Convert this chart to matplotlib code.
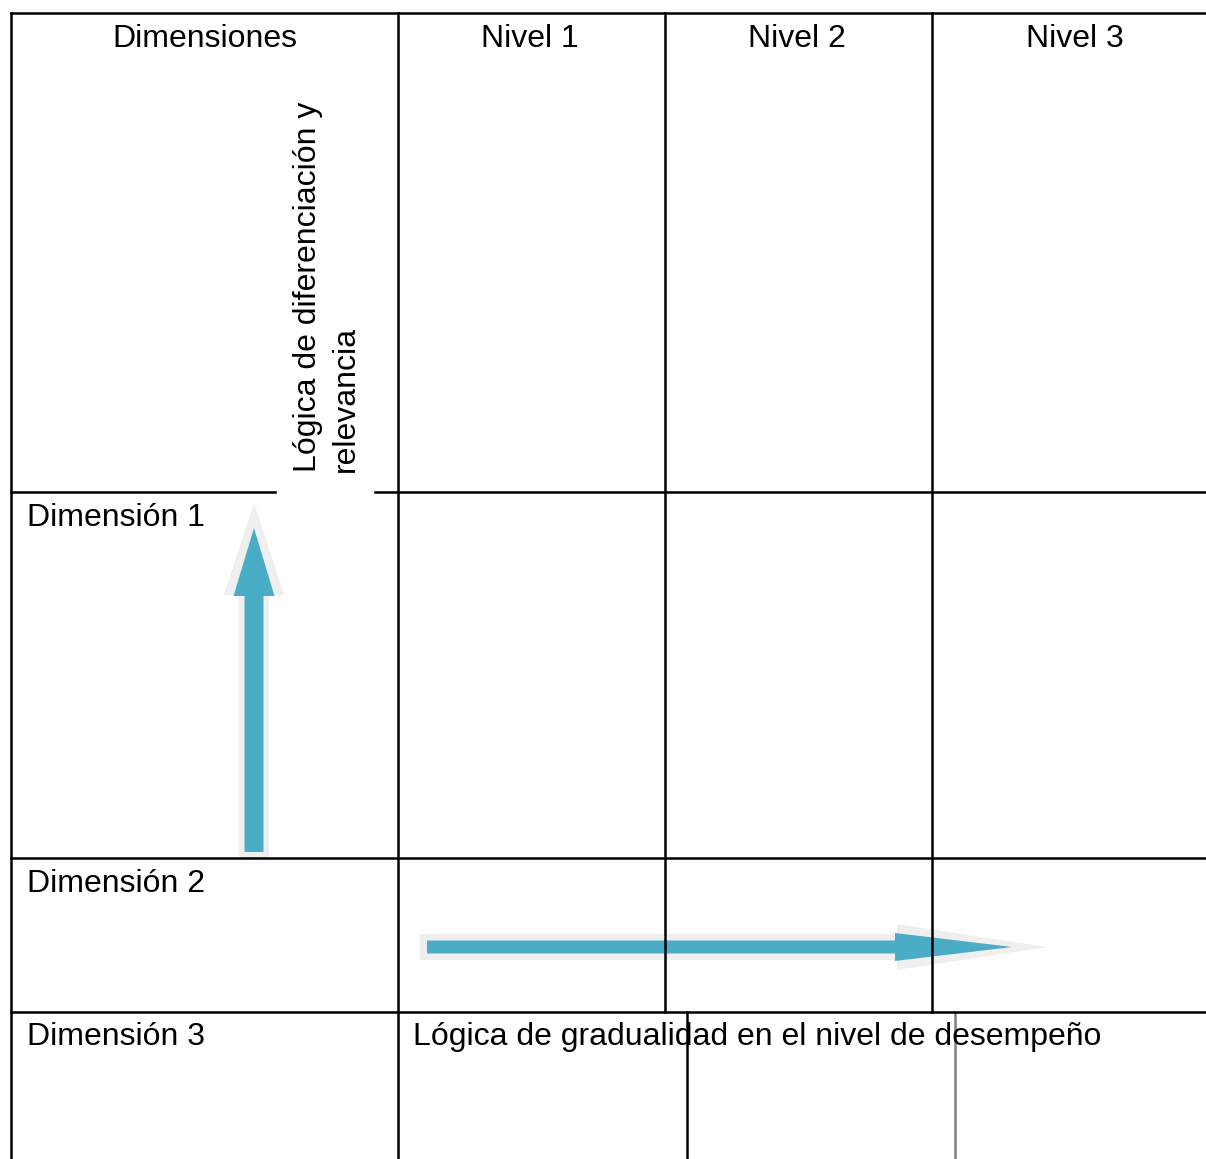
import matplotlib.pyplot as plt
from matplotlib.patches import Polygon

plt.rcParams['font.family'] = ['Liberation Sans', 'DejaVu Sans']

# table content
header = ['Dimensiones', 'Nivel 1', 'Nivel 2', 'Nivel 3']
header_x = [205, 530, 797, 1075]
dimensions = ['Dimensión 1', 'Dimensión 2', 'Dimensión 3']
dimension_y = [526, 892, 1045]
vertical_label = 'Lógica de diferenciación y\nrelevancia'
horizontal_label = 'Lógica de gradualidad en el nivel de desempeño'

# grid lines in pixel space: (x0, x1, y0, y1, colour)
grid_lines = [
    (11, 1206, 13, 13, 'black'),
    (11, 11, 13, 1159, 'black'),
    (398, 398, 13, 1159, 'black'),
    (665, 665, 13, 1012, 'black'),
    (932, 932, 13, 1012, 'black'),
    (687, 687, 1012, 1159, 'black'),
    (955, 955, 1012, 1159, '#808080'),
    (11, 275, 492, 492, 'black'),
    (375, 1206, 492, 492, 'black'),
    (11, 1206, 858, 858, 'black'),
    (11, 1206, 1012, 1012, 'black'),
]

arrow_color = '#4BACC6'
glow_color = '#EFEFEF'


def arrow_poly(x0, y0, x1, y1, shaft, head_w, head_len):
    # arrow from (x0, y0) to tip (x1, y1), axis aligned
    if y0 == y1:
        hb = x1 - head_len
        return [(x0, y0 - shaft / 2), (hb, y0 - shaft / 2), (hb, y0 - head_w / 2),
                (x1, y1), (hb, y0 + head_w / 2), (hb, y0 + shaft / 2), (x0, y0 + shaft / 2)]
    hb = y1 + head_len
    return [(x0 - shaft / 2, y0), (x0 - shaft / 2, hb), (x0 - head_w / 2, hb),
            (x1, y1), (x0 + head_w / 2, hb), (x0 + shaft / 2, hb), (x0 + shaft / 2, y0)]


fig = plt.figure(figsize=(12.06, 11.59), dpi=100)
ax = fig.add_axes([0, 0, 1, 1])
ax.set_xlim(0, 1206)
ax.set_ylim(1159, 0)
ax.axis('off')

for x0, x1, y0, y1, c in grid_lines:
    ax.plot([x0, x1], [y0, y1], color=c, linewidth=1.8, solid_capstyle='projecting')

# vertical arrow with soft glow
ax.add_patch(Polygon(arrow_poly(254, 859, 254, 503, 30, 60, 92), closed=True,
                     facecolor=glow_color, edgecolor='none'))
ax.add_patch(Polygon(arrow_poly(254, 852, 254, 528, 19, 41, 68), closed=True,
                     facecolor=arrow_color, edgecolor='none'))

# horizontal arrow with soft glow
ax.add_patch(Polygon(arrow_poly(420, 947, 1047, 947, 26, 46, 150), closed=True,
                     facecolor=glow_color, edgecolor='none'))
ax.add_patch(Polygon(arrow_poly(427, 947, 1012, 947, 13, 28, 117), closed=True,
                     facecolor=arrow_color, edgecolor='none'))

for label, x in zip(header, header_x):
    ax.text(x, 47, label, ha='center', va='baseline', fontsize=23)

for label, y in zip(dimensions, dimension_y):
    ax.text(27, y, label, ha='left', va='baseline', fontsize=23)

ax.text(327, 472, vertical_label, rotation=90, ha='center', va='bottom',
        multialignment='left', fontsize=23, linespacing=1.35)
ax.text(413, 1045, horizontal_label, ha='left', va='baseline', fontsize=23)

fig.savefig('out.png', dpi=100)
